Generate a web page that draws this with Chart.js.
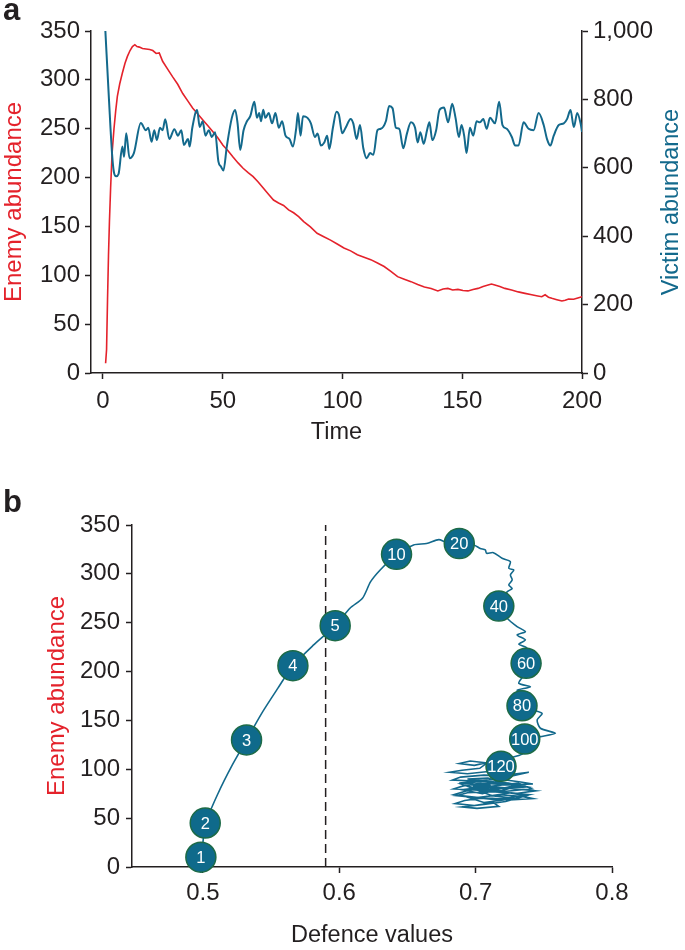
<!DOCTYPE html>
<html>
<head>
<meta charset="utf-8">
<script src="https://cdn.jsdelivr.net/npm/chart.js@4.4.1/dist/chart.umd.min.js"></script>
<style>
  body { margin: 0; background: #fff; }
  #wrap { position: relative; width: 685px; height: 950px; }
  canvas { position: absolute; left: 0; }
  #chart-a { top: 0; }
  #chart-b { top: 470px; }
  .letter { position: absolute; left: 3px; font: bold 31px/31px "Liberation Sans", Arial, sans-serif; color: #231f20; }
</style>
</head>
<body>
<div id="wrap">
  <canvas id="chart-a" width="685" height="470"></canvas>
  <canvas id="chart-b" width="685" height="480"></canvas>
  <div class="letter" style="top:-6px">a</div>
  <div class="letter" style="top:486px">b</div>
</div>
<script>
// panel a: enemy (left axis) and victim (right axis) over time
const enemyTime = [1.1, 1.5, 1.9, 2.3, 2.7, 3.2, 3.8, 4.6, 5.3, 6, 7, 8.1, 9.2, 10.2, 11.3, 12.3, 13.3, 14.2, 15.2, 16.5, 18, 19.5, 20.8, 22.2, 23.5, 24.9, 27, 29.1, 31.2, 33.3, 35.4, 37.5, 39.6, 41.7, 43.8, 45.9, 48, 50.1, 52.2, 54.3, 56.4, 58.5, 60.6, 62.7, 64.8, 67, 69.1, 71.2, 73.3, 75.4, 77.5, 79.6, 81.7, 83.8, 86.6, 89.4, 92.2, 95, 97.8, 100.6, 103.4, 106.2, 109, 111.8, 114.6, 117.4, 120.2, 123, 125.8, 128.6, 131.4, 134.2, 137, 139.8, 142, 144, 146, 148.2, 150.3, 152.4, 154.5, 156.6, 158.7, 160.8, 162.2, 163.6, 165.7, 167.8, 170.6, 173.4, 176.2, 179, 181, 183.2, 184.6, 186, 187.4, 189.5, 191.6, 193, 194.4, 196.5, 198.6, 200]
const enemyValues = [10, 24, 75, 120, 155, 190, 225, 250, 268, 283, 296, 307, 317, 324, 330, 334, 336, 334, 333.5, 332, 331.5, 331, 330, 327, 327.5, 319, 311, 303, 295.5, 286, 278.5, 271, 265, 259, 253, 247, 240.5, 233, 227.5, 221, 215, 209.5, 205, 201, 195.5, 189, 183, 177, 174, 171.5, 167, 164, 160, 155, 149.5, 143, 139.5, 136, 132, 128, 125, 121, 118.5, 116, 112.5, 109, 104, 98.6, 96, 93.5, 90.5, 88, 86.5, 84, 86, 86.6, 85, 85.6, 84.5, 84, 85.5, 86.6, 88.5, 90, 91, 90, 88.5, 86.6, 85, 83, 81.5, 80, 79, 78, 80, 77.5, 76.4, 75, 73.7, 74.5, 75.7, 75.5, 77, 78]
const victimTime = [1, 2.5, 3.8, 4.5, 5.5, 6.5, 8.1, 8.8, 9.7, 11.1, 12.9, 15.8, 17.9, 18.9, 20.3, 21.4, 22.5, 23.8, 24.9, 26, 27.7, 29.8, 31.3, 32.7, 33.8, 35.5, 36.2, 37.3, 39.3, 40.4, 41.6, 42.8, 44.2, 45.4, 46.8, 48.2, 49.3, 50.3, 51.7, 53.8, 55.2, 56.2, 57.3, 58.7, 60.1, 61.5, 63.2, 64.3, 65.2, 66, 66.9, 67.8, 69.2, 70.6, 72, 73.4, 74.8, 76.2, 77.9, 79.3, 80.7, 81.4, 82.5, 83.5, 85.4, 86.8, 88.5, 89.6, 91, 92.4, 93.6, 94.5, 96, 97.5, 98.5, 99.9, 101.3, 103.4, 104.5, 105.9, 107.3, 108.7, 110.1, 111.5, 112.9, 114.6, 116, 118.1, 119.5, 120.9, 122.3, 123.7, 125.4, 126.9, 128.6, 130.3, 131.4, 132.5, 133.9, 135.3, 136.3, 137.5, 139.1, 140.5, 142.4, 144.1, 145.8, 147.2, 148.6, 149.7, 150.8, 151.8, 153.2, 154.6, 156, 157.4, 158.8, 160.2, 161.6, 163.7, 165.4, 166.8, 168.6, 170.7, 172.1, 173.5, 175.6, 177.7, 179.8, 181.9, 184, 185.4, 186.8, 188.2, 190.3, 192.4, 193.8, 195.2, 196.6, 198, 199.4, 200]
const victimValues = [1000, 800, 640, 590, 575, 582, 662, 632, 701, 628, 643, 731, 710, 717, 676, 710, 681, 717, 710, 742, 684, 713, 694, 710, 667, 684, 662, 717, 769, 719, 736, 694, 710, 690, 704, 618, 603, 592, 662, 746, 769, 730, 652, 710, 736, 751, 793, 746, 760, 736, 770, 746, 760, 730, 760, 717, 736, 694, 684, 662, 717, 760, 694, 751, 746, 730, 690, 700, 665, 674, 694, 655, 717, 764, 755, 701, 717, 743, 730, 684, 725, 657, 628, 643, 638, 710, 714, 736, 781, 774, 717, 714, 657, 700, 733, 717, 674, 704, 670, 710, 733, 681, 710, 769, 776, 733, 787, 746, 690, 725, 694, 643, 717, 694, 736, 733, 743, 714, 746, 730, 793, 725, 714, 690, 665, 665, 733, 714, 710, 760, 725, 684, 665, 694, 725, 730, 743, 769, 719, 760, 730, 705]
const timeTicks = [0, 50, 100, 150, 200]
const enemyTicks = [0, 50, 100, 150, 200, 250, 300, 350]
const victimTicks = [0, 200, 400, 600, 800, 1000]

// panel b: trajectory of defence against enemy abundance
const pathDefence = [0.4985, 0.5, 0.5017, 0.511, 0.521, 0.532, 0.543, 0.555, 0.566, 0.581, 0.597, 0.608, 0.617, 0.623, 0.630, 0.642, 0.6545, 0.664, 0.673, 0.678, 0.688, 0.6986, 0.7034, 0.7071, 0.708, 0.713, 0.7194, 0.7255, 0.7243, 0.728, 0.7255, 0.7268, 0.7243, 0.7268, 0.7231, 0.717, 0.7231, 0.7304, 0.7365, 0.7304, 0.7365, 0.7316, 0.7377, 0.737, 0.735, 0.7316, 0.7402, 0.7304, 0.739, 0.734, 0.7487, 0.7451, 0.7475, 0.7585, 0.7475, 0.736, 0.735, 0.7255, 0.7186]
const pathEnemy = [10, 25, 44, 75, 103, 130, 157, 183, 206, 227, 247, 265, 275, 292, 304, 320, 329.6, 331, 335, 332.6, 331, 329.6, 326, 324.5, 321, 321.7, 316, 312.5, 305.7, 304, 299, 293.8, 288.6, 285, 281.6, 267.4, 254.5, 246, 240.8, 237.5, 232.3, 228, 223.8, 208.5, 196, 188, 184.5, 181, 177.8, 164.8, 157.3, 150.5, 142, 136.8, 133.4, 130.7, 116.4, 111.6, 103.4]
const tangleDefence = [0.7186, 0.712, 0.696, 0.688, 0.699, 0.709, 0.703, 0.690, 0.681, 0.694, 0.711, 0.727, 0.739, 0.726, 0.706, 0.689, 0.683, 0.699, 0.717, 0.733, 0.742, 0.723, 0.704, 0.691, 0.684, 0.697, 0.713, 0.729, 0.744, 0.731, 0.711, 0.694, 0.686, 0.701, 0.718, 0.735, 0.742, 0.725, 0.707, 0.692, 0.685, 0.699, 0.713, 0.717, 0.701, 0.690, 0.706, 0.722, 0.737, 0.720, 0.701, 0.689, 0.706, 0.724, 0.738, 0.716, 0.698, 0.712, 0.728, 0.709, 0.694, 0.712, 0.700, 0.720, 0.705, 0.690, 0.708, 0.731, 0.741, 0.719, 0.696, 0.684, 0.702, 0.726, 0.739, 0.715, 0.693, 0.706, 0.729, 0.712, 0.697, 0.719, 0.734, 0.703, 0.688, 0.711]
const tangleEnemy = [103.4, 106, 108.5, 106, 104, 107, 101, 99, 97, 95.5, 98, 95, 97, 93, 94, 92, 89, 88, 90, 87, 85, 84, 86, 83, 80, 79, 82, 80, 78, 75.5, 77, 76, 73, 71, 74, 72, 70, 68.5, 71, 68, 65, 63, 66, 62, 60, 61.5, 64, 67, 73, 77, 80, 85, 88, 86, 82, 80, 83, 78, 83, 91, 90, 87, 84, 81, 75, 79, 82, 86, 80, 77, 79, 74, 71, 76, 74, 69, 72, 66, 70, 73, 81, 78, 84, 88, 86, 84]
const markerLabels = ['1', '2', '3', '4', '5', '10', '20', '40', '60', '80', '100', '120']
const markerDefence = [0.4985, 0.5017, 0.532, 0.566, 0.597, 0.642, 0.688, 0.717, 0.737, 0.734, 0.736, 0.7186]
const markerEnemy = [10, 45, 130, 206, 247, 320, 331, 267, 208.5, 165, 131, 103]
const thresholdDefence = 0.59
const thresholdEnemy = [0, 350]
const defenceTicks = [0.5, 0.6, 0.7, 0.8]

const ink = '#231f20'
const red = '#e4222b'
const teal = '#13698c'
const font = '"Liberation Sans", Arial, Helvetica, sans-serif'

Chart.defaults.font.family = font
Chart.defaults.color = ink
Chart.defaults.animation = false
Chart.defaults.plugins.legend.display = false
Chart.defaults.plugins.tooltip.enabled = false

let pairs = (xs, ys) => xs.map((x, i) => ({ x: x, y: ys[i] }))
let setTicks = list => scale => { scale.ticks = list.map(v => ({ value: v })) }

let axis = (extra) => Object.assign({
  type: 'linear',
  grid: { drawOnChartArea: false, drawTicks: true, tickLength: 6, tickWidth: 1.5, tickColor: ink },
  border: { display: true, color: ink, width: 1.5 },
}, extra)

let rightTitle = {
  id: 'rightTitle',
  afterDraw(chart) {
    let ctx = chart.ctx
    let area = chart.chartArea
    ctx.save()
    ctx.font = `23.5px ${ font }`
    ctx.fillStyle = teal
    ctx.textAlign = 'center'
    ctx.textBaseline = 'middle'
    ctx.translate(chart.scales.y2.right - 13, (area.top + area.bottom) / 2)
    ctx.rotate(-Math.PI / 2)
    ctx.fillText('Victim abundance', 0, 0)
    ctx.restore()
  }
}

new Chart(document.getElementById('chart-a'), {
  type: 'line',
  data: {
    datasets: [{
      data: pairs(victimTime, victimValues),
      yAxisID: 'y2',
      borderColor: teal,
      borderWidth: 2,
      pointRadius: 0,
      cubicInterpolationMode: 'monotone'
    }, {
      data: pairs(enemyTime, enemyValues),
      yAxisID: 'y',
      borderColor: red,
      borderWidth: 1.6,
      pointRadius: 0,
      tension: 0
    }]
  },
  options: {
    responsive: false,
    layout: { padding: { top: 31, left: 0, right: 0, bottom: 0 } },
    scales: {
      x: axis({
        min: -5, max: 200,
        afterBuildTicks: setTicks(timeTicks),
        afterFit: s => { s.height = 97 },
        ticks: { font: { size: 24 }, padding: 8, maxRotation: 0 },
        title: { display: true, text: 'Time', font: { size: 23.5 }, padding: { top: 0, bottom: 23 } }
      }),
      y: axis({
        position: 'left', min: 0, max: 350,
        afterBuildTicks: setTicks(enemyTicks),
        afterFit: s => { s.width = 91 },
        ticks: { font: { size: 24 }, padding: 5 },
        title: { display: true, text: 'Enemy abundance', color: red, font: { size: 24 }, padding: { top: 0, bottom: 0 } }
      }),
      y2: axis({
        position: 'right', min: 0, max: 1000,
        afterBuildTicks: setTicks(victimTicks),
        afterFit: s => { s.width = 103 },
        ticks: { font: { size: 24 }, padding: 5, callback: v => v.toLocaleString('en-US') }
      })
    }
  },
  plugins: [rightTitle]
})

let markerText = {
  id: 'markerText',
  afterDatasetsDraw(chart) {
    let ctx = chart.ctx
    ctx.save()
    ctx.font = `16.5px ${ font }`
    ctx.fillStyle = '#ffffff'
    ctx.textAlign = 'center'
    ctx.textBaseline = 'middle'
    chart.getDatasetMeta(0).data.forEach((pt, i) => {
      ctx.fillText(markerLabels[i], pt.x, pt.y + 1)
    })
    ctx.restore()
  }
}

new Chart(document.getElementById('chart-b'), {
  type: 'line',
  data: {
    datasets: [{
      data: pairs(markerDefence, markerEnemy),
      showLine: false,
      pointRadius: 15,
      pointBackgroundColor: '#0f6a8b',
      pointBorderColor: '#1d6b47',
      pointBorderWidth: 1.5,
      clip: false
    }, {
      data: pairs(pathDefence, pathEnemy),
      borderColor: teal,
      borderWidth: 1.6,
      pointRadius: 0,
      tension: 0.25
    }, {
      data: pairs(tangleDefence, tangleEnemy),
      borderColor: teal,
      borderWidth: 1.6,
      pointRadius: 0,
      tension: 0
    }, {
      data: thresholdEnemy.map(v => ({ x: thresholdDefence, y: v })),
      borderColor: ink,
      borderWidth: 1.5,
      borderDash: [9, 5],
      pointRadius: 0
    }]
  },
  options: {
    responsive: false,
    layout: { padding: { top: 55, left: 0, right: 73, bottom: 0 } },
    scales: {
      x: axis({
        min: 0.448, max: 0.8,
        afterBuildTicks: setTicks(defenceTicks),
        afterFit: s => { s.height = 83 },
        ticks: { font: { size: 24 }, padding: 6, maxRotation: 0, callback: v => v.toFixed(1) },
        title: { display: true, text: 'Defence values', font: { size: 23.5 }, padding: { top: 0, bottom: 0 } }
      }),
      y: axis({
        min: 0, max: 350,
        afterBuildTicks: setTicks(enemyTicks),
        afterFit: s => { s.width = 132 },
        ticks: { font: { size: 24 }, padding: 6 },
        title: { display: true, text: 'Enemy abundance', color: red, font: { size: 24 }, padding: { top: 43, bottom: 0 } }
      })
    }
  },
  plugins: [markerText]
})
</script>
</body>
</html>
